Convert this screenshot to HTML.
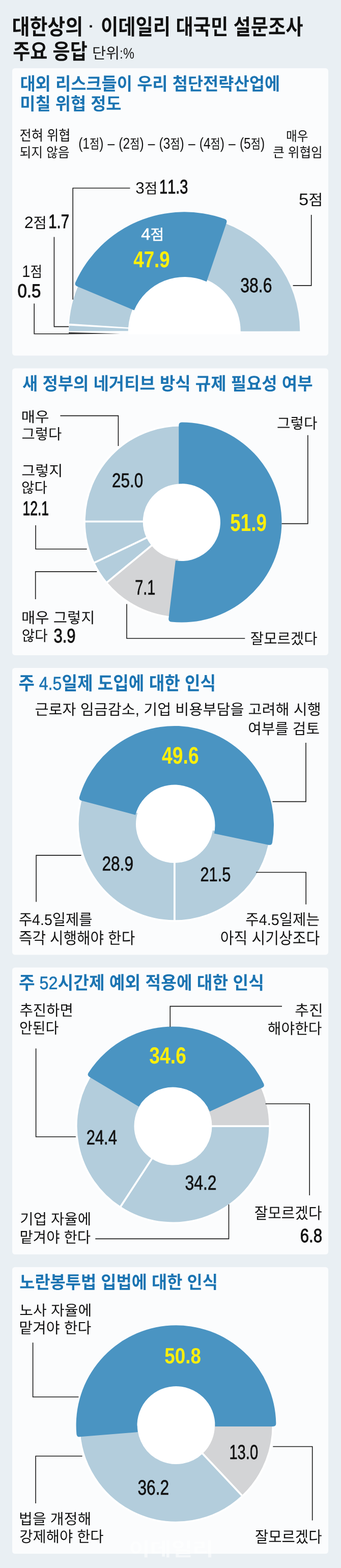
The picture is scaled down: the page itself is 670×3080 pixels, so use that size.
<!DOCTYPE html>
<html lang="ko"><head><meta charset="utf-8"><title>대한상의 · 이데일리 대국민 설문조사 주요 응답</title>
<style>
html,body{margin:0;padding:0;background:#e9eff3}
body{width:670px;height:3080px;overflow:hidden;font-family:"Liberation Sans","Noto Sans CJK KR",sans-serif}
svg{display:block;will-change:transform}
text{font-family:"Liberation Sans","Noto Sans CJK KR",sans-serif;font-kerning:none;text-rendering:geometricPrecision}
</style></head><body>
<svg width="670" height="3080" viewBox="0 0 670 3080">
<rect width="670" height="3080" fill="#e9eff3"/>
<rect x="24" y="134.0" width="621" height="564.5" rx="5.5" fill="#fbfcfd"/>
<rect x="24" y="723.5" width="621" height="563.5" rx="5.5" fill="#fbfcfd"/>
<rect x="24" y="1312.0" width="621" height="563.5" rx="5.5" fill="#fbfcfd"/>
<rect x="24" y="1900.5" width="621" height="563.5" rx="5.5" fill="#fbfcfd"/>
<rect x="24" y="2489.0" width="621" height="563.0" rx="5.5" fill="#fbfcfd"/>
<path d="M251.8 656.5V651.0A110.5 110.5 0 0 1 472.8 651.0V656.5Z" fill="#fff"/>
<path d="M392.76 544.78L424.87 432.79A227.00 227.00 0 0 1 589.30 650.60L472.80 650.81A110.50 110.50 0 0 0 392.76 544.78Z" fill="#b3cddc"/>
<path d="M252.78 643.92L135.02 636.30A227.75 227.75 0 0 1 165.06 537.12L267.25 596.12A109.75 109.75 0 0 0 252.78 643.92Z" fill="#b3cddc" stroke="#fff" stroke-width="1.5" stroke-linejoin="round"/>
<path d="M252.55 651.00L134.55 651.00A227.75 227.75 0 0 1 134.88 638.68L252.71 645.06A109.75 109.75 0 0 0 252.55 651.00Z" fill="#b3cddc" stroke="#fff" stroke-width="1.5" stroke-linejoin="round"/>
<path d="M135 652.8L135 656.6L236 655.4Z" fill="#333"/>
<path d="M263.66 609.54L151.47 562.38Q145.94 560.05 148.33 554.55A234.70 234.70 0 0 1 441.33 430.01Q446.95 432.10 445.03 437.78L405.93 553.30A107.00 107.00 0 0 0 263.66 609.54Z" fill="#4a94c2"/>
<polyline points="255.5,369.5 143.2,369.5 143.2,588.4" fill="none" stroke="#1a1a1a" stroke-width="1.6"/>
<polyline points="106.4,465.5 106.4,641.6 135.0,641.6" fill="none" stroke="#1a1a1a" stroke-width="1.6"/>
<polyline points="67.2,596.3 67.2,655.7 135.0,655.7" fill="none" stroke="#1a1a1a" stroke-width="1.6"/>
<polyline points="611.7,422.0 611.7,560.9 575.6,560.9" fill="none" stroke="#1a1a1a" stroke-width="1.6"/>
<circle cx="354.7" cy="1024.5" r="76" fill="#fff"/>
<path d="M282.50 1024.50L165.90 1024.50A188.80 188.80 0 0 1 367.87 836.16L359.74 952.48A72.20 72.20 0 0 0 282.50 1024.50Z" fill="#b3cddc" stroke="#fff" stroke-width="3.6" stroke-linejoin="round"/>
<path d="M289.57 1055.65L184.38 1105.96A188.80 188.80 0 0 1 165.90 1024.50L282.50 1024.50A72.20 72.20 0 0 0 289.57 1055.65Z" fill="#b3cddc" stroke="#fff" stroke-width="3.6" stroke-linejoin="round"/>
<path d="M299.07 1070.52L209.23 1144.85A188.80 188.80 0 0 1 184.38 1105.96L289.57 1055.65A72.20 72.20 0 0 0 299.07 1070.52Z" fill="#b3cddc" stroke="#fff" stroke-width="3.6" stroke-linejoin="round"/>
<path d="M352.18 1096.66L348.11 1213.18A188.80 188.80 0 0 1 209.23 1144.85L299.07 1070.52A72.20 72.20 0 0 0 352.18 1096.66Z" fill="#d3d4d6" stroke="#fff" stroke-width="3.6" stroke-linejoin="round"/>
<path d="M351.25 950.22L351.25 835.58Q351.25 829.58 357.25 829.50A196.50 196.50 0 1 1 336.58 1221.44Q330.62 1220.72 331.34 1214.76L344.98 1101.04A76.00 76.00 0 1 0 351.25 950.22Z" fill="#4a94c2"/>
<polyline points="118.4,816.6 232.4,816.6 232.4,876.0" fill="none" stroke="#1a1a1a" stroke-width="1.6"/>
<polyline points="70.1,1031.7 70.1,1078.5 170.7,1078.5" fill="none" stroke="#1a1a1a" stroke-width="1.6"/>
<polyline points="190.3,1122.9 69.7,1122.9 69.7,1177.0" fill="none" stroke="#1a1a1a" stroke-width="1.6"/>
<polyline points="249.0,1186.5 249.0,1254.0 481.3,1254.0" fill="none" stroke="#1a1a1a" stroke-width="1.6"/>
<polyline points="604.8,854.7 604.8,1028.6 553.5,1028.6" fill="none" stroke="#1a1a1a" stroke-width="1.6"/>
<circle cx="343" cy="1620" r="79" fill="#fff"/>
<path d="M343.00 1693.20L343.00 1809.10A190.10 190.10 0 0 1 162.20 1560.26L272.43 1596.07A74.20 74.20 0 0 0 343.00 1693.20Z" fill="#b3cddc" stroke="#fff" stroke-width="3.6" stroke-linejoin="round"/>
<path d="M416.48 1629.33L531.25 1645.46A190.10 190.10 0 0 1 343.00 1809.10L343.00 1693.20A74.20 74.20 0 0 0 416.48 1629.33Z" fill="#b3cddc" stroke="#fff" stroke-width="3.6" stroke-linejoin="round"/>
<path d="M266.14 1600.69L160.27 1572.72Q154.47 1571.19 156.09 1565.41A195.00 195.00 0 0 1 535.02 1654.99Q533.88 1660.88 528.01 1659.65L420.82 1637.26A79.50 79.50 0 0 0 266.14 1600.69Z" fill="#4a94c2"/>
<polyline points="601.0,1459.0 601.0,1574.6 535.6,1574.6" fill="none" stroke="#1a1a1a" stroke-width="1.6"/>
<polyline points="159.5,1680.1 71.1,1680.1 71.1,1771.6" fill="none" stroke="#1a1a1a" stroke-width="1.6"/>
<polyline points="503.0,1713.5 601.2,1713.5 601.2,1776.5" fill="none" stroke="#1a1a1a" stroke-width="1.6"/>
<circle cx="340" cy="2212" r="79.0" fill="#fff"/>
<path d="M414.70 2212.00L530.20 2212.00A190.20 190.20 0 0 1 236.08 2371.30L299.18 2274.56A74.70 74.70 0 0 0 414.70 2212.00Z" fill="#b3cddc" stroke="#fff" stroke-width="3.6" stroke-linejoin="round"/>
<path d="M299.18 2274.56L236.08 2371.30A190.20 190.20 0 0 1 184.20 2102.91L278.81 2169.15A74.70 74.70 0 0 0 299.18 2274.56Z" fill="#b3cddc" stroke="#fff" stroke-width="3.6" stroke-linejoin="round"/>
<path d="M405.33 2175.78L506.35 2119.79A190.20 190.20 0 0 1 530.20 2212.00L414.70 2212.00A74.70 74.70 0 0 0 405.33 2175.78Z" fill="#d3d4d6" stroke="#fff" stroke-width="3.6" stroke-linejoin="round"/>
<path d="M272.77 2173.67L175.78 2115.48Q170.64 2112.40 173.80 2107.30A197.50 197.50 0 0 1 518.05 2128.54Q520.57 2133.99 515.10 2136.47L412.16 2183.34A78.40 78.40 0 0 0 272.77 2173.67Z" fill="#4a94c2"/>
<polyline points="70.6,2059.5 70.6,2233.0 148.9,2233.0" fill="none" stroke="#1a1a1a" stroke-width="1.6"/>
<polyline points="554.0,1976.6 334.3,1976.6 334.3,2017.0" fill="none" stroke="#1a1a1a" stroke-width="1.6"/>
<polyline points="521.7,2168.2 608.2,2168.2 608.2,2348.0" fill="none" stroke="#1a1a1a" stroke-width="1.6"/>
<polyline points="449.5,2365.7 449.5,2433.4 187.3,2433.4" fill="none" stroke="#1a1a1a" stroke-width="1.6"/>
<circle cx="346" cy="2800" r="78" fill="#fff"/>
<path d="M420.02 2794.82L535.94 2786.72A190.40 190.40 0 0 1 476.34 2938.80L396.79 2854.09A74.20 74.20 0 0 0 420.02 2794.82Z" fill="#d3d4d6" stroke="#fff" stroke-width="3.6" stroke-linejoin="round"/>
<path d="M396.79 2854.09L476.34 2938.80A190.40 190.40 0 0 1 155.63 2796.68L271.81 2798.71A74.20 74.20 0 0 0 396.79 2854.09Z" fill="#b3cddc" stroke="#fff" stroke-width="3.6" stroke-linejoin="round"/>
<path d="M270.69 2813.02L156.96 2822.37Q150.98 2822.86 150.36 2816.89A196.40 196.40 0 1 1 542.37 2796.10Q542.38 2802.10 536.38 2802.10L422.46 2802.10A76.50 76.50 0 1 0 270.69 2813.02Z" fill="#4a94c2"/>
<polyline points="64.6,2637.3 64.6,2744.0 154.4,2744.0" fill="none" stroke="#1a1a1a" stroke-width="1.6"/>
<polyline points="161.6,2860.2 70.1,2860.2 70.1,2953.0" fill="none" stroke="#1a1a1a" stroke-width="1.6"/>
<polyline points="536.3,2841.5 613.7,2841.5 613.7,2986.4" fill="none" stroke="#1a1a1a" stroke-width="1.6"/>
<g fill="#111" aria-label="대한상의"><text x="23.5" y="67.9" font-size="42.8" font-weight="bold" textLength="139.6" lengthAdjust="spacingAndGlyphs">대한상의</text></g>
<g fill="#111" aria-label="이데일리 대국민 설문조사"><text x="198.1" y="67.9" font-size="42.8" font-weight="bold" textLength="397.4" lengthAdjust="spacingAndGlyphs">이데일리 대국민 설문조사</text></g>
<rect x="176.2" y="49.5" width="4.6" height="4.6" rx="0.8" fill="#111"/>
<g fill="#111" aria-label="주요 응답"><text x="25.2" y="116.0" font-size="42.1" font-weight="bold" textLength="146.5" lengthAdjust="spacingAndGlyphs">주요 응답</text></g>
<g fill="#1a1a1a" aria-label="단위:%"><text x="181.0" y="115.2" font-size="29.8" textLength="54.1" lengthAdjust="spacingAndGlyphs">단위</text><text transform="translate(235.07 115.17) scale(0.8275 1)" font-size="29.83">:%</text></g>
<g fill="#1b74b2" aria-label="대외 리스크들이 우리 첨단전략산업에"><text x="39.4" y="177.1" font-size="34.8" font-weight="bold" textLength="510.8" lengthAdjust="spacingAndGlyphs">대외 리스크들이 우리 첨단전략산업에</text></g>
<g fill="#1b74b2" aria-label="미칠 위협 정도"><text x="39.3" y="215.8" font-size="34.3" font-weight="bold" textLength="199.2" lengthAdjust="spacingAndGlyphs">미칠 위협 정도</text></g>
<g fill="#111" aria-label="전혀 위협"><text x="38.5" y="276.3" font-size="28.3" textLength="100.0" lengthAdjust="spacingAndGlyphs">전혀 위협</text></g>
<g fill="#111" aria-label="되지 않음"><text x="38.4" y="308.7" font-size="27.0" textLength="98.2" lengthAdjust="spacingAndGlyphs">되지 않음</text></g>
<g fill="#111" aria-label="(1점) – (2점) – (3점) – (4점) – (5점)"><text transform="translate(154.17 291.67) scale(0.8041 1)" font-size="30.59">(1</text><text x="176.0" y="291.7" font-size="25.9" textLength="19.2" lengthAdjust="spacingAndGlyphs">점</text><text transform="translate(195.22 291.67) scale(0.8041 1)" font-size="30.59">)</text><text transform="translate(211.54 291.67) scale(0.8041 1)" font-size="30.59">–</text><text transform="translate(233.35 291.67) scale(0.8041 1)" font-size="30.59">(2</text><text x="255.2" y="291.7" font-size="25.9" textLength="19.2" lengthAdjust="spacingAndGlyphs">점</text><text transform="translate(274.40 291.67) scale(0.8041 1)" font-size="30.59">)</text><text transform="translate(290.72 291.67) scale(0.8041 1)" font-size="30.59">–</text><text transform="translate(312.53 291.67) scale(0.8041 1)" font-size="30.59">(3</text><text x="334.4" y="291.7" font-size="25.9" textLength="19.2" lengthAdjust="spacingAndGlyphs">점</text><text transform="translate(353.58 291.67) scale(0.8041 1)" font-size="30.59">)</text><text transform="translate(369.90 291.67) scale(0.8041 1)" font-size="30.59">–</text><text transform="translate(391.71 291.67) scale(0.8041 1)" font-size="30.59">(4</text><text x="413.6" y="291.7" font-size="25.9" textLength="19.2" lengthAdjust="spacingAndGlyphs">점</text><text transform="translate(432.76 291.67) scale(0.8041 1)" font-size="30.59">)</text><text transform="translate(449.08 291.67) scale(0.8041 1)" font-size="30.59">–</text><text transform="translate(470.89 291.67) scale(0.8041 1)" font-size="30.59">(5</text><text x="492.8" y="291.7" font-size="25.9" textLength="19.2" lengthAdjust="spacingAndGlyphs">점</text><text transform="translate(511.93 291.67) scale(0.8041 1)" font-size="30.59">)</text></g>
<g fill="#111" aria-label="매우"><text x="561.9" y="276.6" font-size="26.7" textLength="43.5" lengthAdjust="spacingAndGlyphs">매우</text></g>
<g fill="#111" aria-label="큰 위협임"><text x="536.2" y="308.6" font-size="26.8" textLength="97.6" lengthAdjust="spacingAndGlyphs">큰 위협임</text></g>
<g fill="#111" aria-label="3점"><text transform="translate(266.30 380.04) scale(0.9930 1)" font-size="31.76">3</text><text x="283.8" y="380.0" font-size="28.1" textLength="25.7" lengthAdjust="spacingAndGlyphs">점</text></g>
<g fill="#111" aria-label="11.3"><text transform="translate(313.09 380.22) scale(0.7513 1)" font-size="38.56" stroke="#111" stroke-width="1.00">11.3</text></g>
<g fill="#111" aria-label="2점"><text transform="translate(47.68 447.70) scale(0.9923 1)" font-size="32.52">2</text><text x="65.6" y="447.7" font-size="28.8" textLength="26.3" lengthAdjust="spacingAndGlyphs">점</text></g>
<g fill="#111" aria-label="1.7"><text transform="translate(95.26 448.10) scale(0.7680 1)" font-size="38.23" stroke="#111" stroke-width="1.00">1.7</text></g>
<g fill="#111" aria-label="1점"><text transform="translate(43.30 544.29) scale(0.8858 1)" font-size="32.65">1</text><text x="59.4" y="544.3" font-size="28.9" textLength="23.5" lengthAdjust="spacingAndGlyphs">점</text></g>
<g fill="#111" aria-label="0.5"><text transform="translate(34.41 584.14) scale(0.8904 1)" font-size="37.15" stroke="#111" stroke-width="1.00">0.5</text></g>
<g fill="#fff" aria-label="4점"><text transform="translate(277.35 471.32) scale(1.0156 1)" font-size="32.27" stroke="#fff" stroke-width="0.50">4</text><text x="295.6" y="471.3" font-size="28.6" stroke="#fff" stroke-width="0.5" textLength="26.7" lengthAdjust="spacingAndGlyphs">점</text></g>
<g fill="#ffef0a" aria-label="47.9"><text transform="translate(262.24 524.56) scale(0.8119 1)" font-size="45.20" font-weight="bold">47.9</text></g>
<g fill="#111" aria-label="38.6"><text transform="translate(472.18 574.31) scale(0.8012 1)" font-size="39.97" stroke="#111" stroke-width="0.70">38.6</text></g>
<g fill="#111" aria-label="5점"><text transform="translate(587.12 402.76) scale(1.0419 1)" font-size="33.15">5</text><text x="606.3" y="402.8" font-size="29.3" textLength="28.1" lengthAdjust="spacingAndGlyphs">점</text></g>
<g fill="#1b74b2" aria-label="새 정부의 네거티브 방식 규제 필요성 여부"><text x="43.9" y="765.6" font-size="34.9" font-weight="bold" textLength="570.6" lengthAdjust="spacingAndGlyphs">새 정부의 네거티브 방식 규제 필요성 여부</text></g>
<g fill="#111" aria-label="매우"><text x="41.4" y="828.9" font-size="28.3" textLength="55.0" lengthAdjust="spacingAndGlyphs">매우</text></g>
<g fill="#111" aria-label="그렇다"><text x="42.4" y="863.4" font-size="28.9" textLength="78.8" lengthAdjust="spacingAndGlyphs">그렇다</text></g>
<g fill="#111" aria-label="그렇지"><text x="42.3" y="935.2" font-size="28.6" textLength="81.1" lengthAdjust="spacingAndGlyphs">그렇지</text></g>
<g fill="#111" aria-label="않다"><text x="42.0" y="968.4" font-size="28.4" textLength="50.8" lengthAdjust="spacingAndGlyphs">않다</text></g>
<g fill="#111" aria-label="12.1"><text transform="translate(44.48 1012.10) scale(0.6734 1)" font-size="39.38" stroke="#111" stroke-width="1.00">12.1</text></g>
<g fill="#111" aria-label="매우 그렇지"><text x="42.1" y="1223.5" font-size="29.6" textLength="144.3" lengthAdjust="spacingAndGlyphs">매우 그렇지</text></g>
<g fill="#111" aria-label="않다"><text x="42.7" y="1258.9" font-size="28.9" textLength="51.0" lengthAdjust="spacingAndGlyphs">않다</text></g>
<g fill="#111" aria-label="3.9"><text transform="translate(105.42 1262.02) scale(0.7992 1)" font-size="38.84" stroke="#111" stroke-width="1.00">3.9</text></g>
<g fill="#111" aria-label="그렇다"><text x="543.9" y="841.7" font-size="29.2" textLength="79.6" lengthAdjust="spacingAndGlyphs">그렇다</text></g>
<g fill="#111" aria-label="잘모르겠다"><text x="491.8" y="1265.1" font-size="29.7" textLength="131.7" lengthAdjust="spacingAndGlyphs">잘모르겠다</text></g>
<g fill="#111" aria-label="25.0"><text transform="translate(220.12 956.82) scale(0.7996 1)" font-size="39.27" stroke="#111" stroke-width="0.70">25.0</text></g>
<g fill="#111" aria-label="7.1"><text transform="translate(265.22 1168.00) scale(0.7054 1)" font-size="40.99" stroke="#111" stroke-width="0.70">7.1</text></g>
<g fill="#ffef0a" aria-label="51.9"><text transform="translate(452.37 1042.53) scale(0.7649 1)" font-size="48.02" font-weight="bold">51.9</text></g>
<g fill="#1b74b2" aria-label="주 4.5일제 도입에 대한 인식"><text x="36.4" y="1355.4" font-size="36.5" font-weight="bold" textLength="31.4" lengthAdjust="spacingAndGlyphs">주</text><text transform="translate(76.75 1355.37) scale(0.8799 1)" font-size="36.50" stroke="#1b74b2" stroke-width="0.60">4.5</text><text x="121.4" y="1355.4" font-size="36.5" font-weight="bold" textLength="302.7" lengthAdjust="spacingAndGlyphs">일제 도입에 대한 인식</text></g>
<g fill="#111" aria-label="근로자 임금감소, 기업 비용부담을 고려해 시행"><text x="68.6" y="1403.7" font-size="29.3" textLength="197.2" lengthAdjust="spacingAndGlyphs">근로자 임금감소</text><text transform="translate(265.83 1403.75) scale(1.0008 1)" font-size="29.32">,</text><text x="282.2" y="1403.7" font-size="29.3" textLength="348.6" lengthAdjust="spacingAndGlyphs">기업 비용부담을 고려해 시행</text></g>
<g fill="#111" aria-label="여부를 검토"><text x="487.2" y="1441.5" font-size="29.6" textLength="140.8" lengthAdjust="spacingAndGlyphs">여부를 검토</text></g>
<g fill="#111" aria-label="주4.5일제를"><text x="36.9" y="1816.9" font-size="30.2" textLength="26.2" lengthAdjust="spacingAndGlyphs">주</text><text transform="translate(63.11 1816.95) scale(0.9453 1)" font-size="30.17">4.5</text><text x="102.8" y="1816.9" font-size="30.2" textLength="78.7" lengthAdjust="spacingAndGlyphs">일제를</text></g>
<g fill="#111" aria-label="즉각 시행해야 한다"><text x="36.9" y="1853.8" font-size="31.8" textLength="228.3" lengthAdjust="spacingAndGlyphs">즉각 시행해야 한다</text></g>
<g fill="#111" aria-label="주4.5일제는"><text x="482.3" y="1816.9" font-size="30.2" textLength="26.4" lengthAdjust="spacingAndGlyphs">주</text><text transform="translate(508.70 1816.95) scale(0.9526 1)" font-size="30.17">4.5</text><text x="548.7" y="1816.9" font-size="30.2" textLength="79.3" lengthAdjust="spacingAndGlyphs">일제는</text></g>
<g fill="#111" aria-label="아직 시기상조다"><text x="432.8" y="1853.8" font-size="31.8" textLength="195.4" lengthAdjust="spacingAndGlyphs">아직 시기상조다</text></g>
<g fill="#ffef0a" aria-label="49.6"><text transform="translate(318.04 1500.04) scale(0.7932 1)" font-size="47.03" font-weight="bold">49.6</text></g>
<g fill="#111" aria-label="28.9"><text transform="translate(200.41 1710.11) scale(0.7973 1)" font-size="39.69" stroke="#111" stroke-width="0.70">28.9</text></g>
<g fill="#111" aria-label="21.5"><text transform="translate(393.45 1730.62) scale(0.7858 1)" font-size="39.12" stroke="#111" stroke-width="0.70">21.5</text></g>
<g fill="#1b74b2" aria-label="주 52시간제 예외 적용에 대한 인식"><text x="37.0" y="1943.4" font-size="35.4" font-weight="bold" textLength="31.6" lengthAdjust="spacingAndGlyphs">주</text><text transform="translate(77.56 1943.43) scale(0.9130 1)" font-size="35.37" stroke="#1b74b2" stroke-width="0.60">52</text><text x="113.5" y="1943.4" font-size="35.4" font-weight="bold" textLength="405.4" lengthAdjust="spacingAndGlyphs">시간제 예외 적용에 대한 인식</text></g>
<g fill="#111" aria-label="추진하면"><text x="38.4" y="1995.1" font-size="29.5" textLength="105.4" lengthAdjust="spacingAndGlyphs">추진하면</text></g>
<g fill="#111" aria-label="안된다"><text x="38.0" y="2030.4" font-size="29.8" textLength="77.3" lengthAdjust="spacingAndGlyphs">안된다</text></g>
<g fill="#111" aria-label="추진"><text x="579.2" y="1995.1" font-size="29.1" textLength="55.6" lengthAdjust="spacingAndGlyphs">추진</text></g>
<g fill="#111" aria-label="해야한다"><text x="525.8" y="2030.9" font-size="29.5" textLength="106.7" lengthAdjust="spacingAndGlyphs">해야한다</text></g>
<g fill="#111" aria-label="잘모르겠다"><text x="499.7" y="2393.7" font-size="31.1" textLength="132.8" lengthAdjust="spacingAndGlyphs">잘모르겠다</text></g>
<g fill="#111" aria-label="6.8"><text transform="translate(589.72 2440.33) scale(0.8267 1)" font-size="37.71" stroke="#111" stroke-width="1.00">6.8</text></g>
<g fill="#111" aria-label="기업 자율에"><text x="39.3" y="2404.6" font-size="29.1" textLength="139.8" lengthAdjust="spacingAndGlyphs">기업 자율에</text></g>
<g fill="#111" aria-label="맡겨야 한다"><text x="38.5" y="2441.0" font-size="30.0" textLength="139.6" lengthAdjust="spacingAndGlyphs">맡겨야 한다</text></g>
<g fill="#111" aria-label="24.4"><text transform="translate(169.75 2247.50) scale(0.7653 1)" font-size="40.39" stroke="#111" stroke-width="0.70">24.4</text></g>
<g fill="#ffef0a" aria-label="34.6"><text transform="translate(293.34 2089.08) scale(0.8118 1)" font-size="45.95" font-weight="bold">34.6</text></g>
<g fill="#111" aria-label="34.2"><text transform="translate(363.38 2336.71) scale(0.7942 1)" font-size="40.25" stroke="#111" stroke-width="0.70">34.2</text></g>
<g fill="#1b74b2" aria-label="노란봉투법 입법에 대한 인식"><text x="38.2" y="2531.1" font-size="34.8" font-weight="bold" textLength="389.8" lengthAdjust="spacingAndGlyphs">노란봉투법 입법에 대한 인식</text></g>
<g fill="#111" aria-label="노사 자율에"><text x="38.3" y="2584.1" font-size="28.3" textLength="141.9" lengthAdjust="spacingAndGlyphs">노사 자율에</text></g>
<g fill="#111" aria-label="맡겨야 한다"><text x="37.3" y="2619.2" font-size="29.9" textLength="142.0" lengthAdjust="spacingAndGlyphs">맡겨야 한다</text></g>
<g fill="#111" aria-label="법을 개정해"><text x="37.1" y="2994.0" font-size="29.1" textLength="142.2" lengthAdjust="spacingAndGlyphs">법을 개정해</text></g>
<g fill="#111" aria-label="강제해야 한다"><text x="38.3" y="3029.2" font-size="29.9" textLength="165.3" lengthAdjust="spacingAndGlyphs">강제해야 한다</text></g>
<g fill="#111" aria-label="잘모르겠다"><text x="500.9" y="3030.3" font-size="31.0" textLength="131.6" lengthAdjust="spacingAndGlyphs">잘모르겠다</text></g>
<g fill="#ffef0a" aria-label="50.8"><text transform="translate(323.37 2677.58) scale(0.8523 1)" font-size="43.08" font-weight="bold">50.8</text></g>
<g fill="#111" aria-label="13.0"><text transform="translate(450.38 2866.11) scale(0.7322 1)" font-size="39.83" stroke="#111" stroke-width="0.70">13.0</text></g>
<g fill="#111" aria-label="36.2"><text transform="translate(270.39 2935.80) scale(0.7726 1)" font-size="41.10" stroke="#111" stroke-width="0.70">36.2</text></g>
<g fill="rgba(255,255,255,.55)" aria-label="이데일리"><text x="252.9" y="3055.7" font-size="36.6" font-weight="bold" textLength="167.2" lengthAdjust="spacingAndGlyphs">이데일리</text></g>
</svg>
</body></html>
